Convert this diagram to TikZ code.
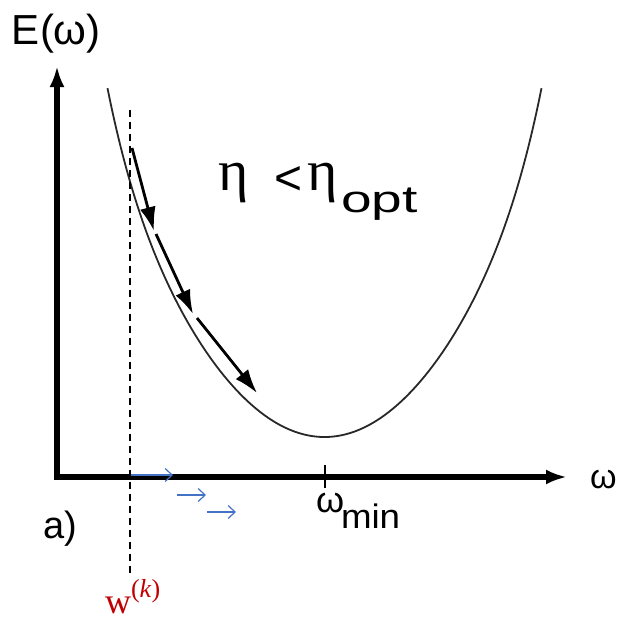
\documentclass[tikz,border=0pt]{standalone}
\usepackage{fontspec}
\setmainfont{Liberation Sans}
\newfontfamily\serifgr{Liberation Serif}
\usetikzlibrary{arrows.meta}
\definecolor{bluearr}{RGB}{68,114,196}
\definecolor{redlbl}{RGB}{192,0,0}
\definecolor{curvegray}{RGB}{40,40,40}
\tikzset{
  axis/.style={line width=5.5pt, -{Latex[length=21pt,width=15pt]}},
  steparrow/.style={line width=2.8pt, -{Latex[length=24pt,width=16pt]}},
  bluestep/.style={bluearr, line width=1.2pt, -{Straight Barb[length=7pt,width=13pt]}},
  lbl/.style={inner sep=0pt, outer sep=0pt},
}
\begin{document}
\begin{tikzpicture}[x=1pt,y=-1pt]
\useasboundingbox (0,0) rectangle (620,622);
% axes
\coordinate (O) at (57,477);
\coordinate (Ox) at (54,477);
\coordinate (Ytop) at (57,66);
\coordinate (Xend) at (567,477);
\draw[axis] (O) -- (Ytop);
\draw[axis] (Ox) -- (Xend);
% curve
\draw[curvegray, line width=1.8pt] plot[domain=-217:217, samples=140, smooth]
  ({324.5+\x}, {437-60.5*(\x/100)^2-0.13*(\x/100)^8});
% dashed vertical line
\coordinate (dtop) at (130,110);
\coordinate (dbot) at (130,574);
\draw[line width=1.5pt, dash pattern=on 7pt off 5pt] (dtop) -- (dbot);
% tick
\coordinate (t1) at (325,465);
\coordinate (t2) at (325,488);
\draw[line width=1.5pt] (t1) -- (t2);
% step arrows
\coordinate (a0) at (132,148);
\coordinate (a1) at (154,231);
\coordinate (a2) at (156,234);
\coordinate (a3) at (193,314);
\coordinate (a4) at (197,318);
\coordinate (a5) at (257,393);
\draw[steparrow] (a0) -- (a1);
\draw[steparrow] (a2) -- (a3);
\draw[steparrow] (a4) -- (a5);
% blue arrows
\coordinate (b0) at (131,475);
\coordinate (b1) at (173,475);
\coordinate (b2) at (177,495);
\coordinate (b3) at (206,495);
\coordinate (b4) at (207,512);
\coordinate (b5) at (236,512);
\draw[bluestep] (b0) -- (b1);
\draw[bluestep] (b2) -- (b3);
\draw[bluestep] (b4) -- (b5);
% labels
\node[lbl, anchor=base west, font=\fontsize{42}{42}\selectfont] (Elbl) at (12,44) {E(ω)};
\node[lbl, anchor=base west, font=\fontsize{38}{38}\selectfont] (alpha) at (43,538) {a)};
\node[lbl, anchor=base west, font=\fontsize{34}{34}\selectfont] (omg) at (590,488) {ω};
\node[lbl, anchor=base west, font=\fontsize{36}{36}\selectfont] (omin) at (316,512) {ω};
\node[lbl, anchor=base west, font=\fontsize{34}{34}\selectfont, xscale=1.08] (minl) at (341,528) {min};
\node[lbl, anchor=base west, font=\serifgr\fontsize{58}{58}\selectfont] (eta1) at (218,190) {η};
\node[lbl, anchor=base west, font=\fontsize{48}{48}\selectfont] (lt) at (274,194) {<};
\node[lbl, anchor=base west, font=\serifgr\fontsize{58}{58}\selectfont] (eta2) at (307,190) {η};
\node[lbl, anchor=base west, font=\fontsize{38}{38}\selectfont, xscale=1.45] (opt) at (341,212) {opt};
\node[lbl, anchor=base west, text=redlbl, font=\serifgr\fontsize{36}{36}\selectfont] (wk) at (105,613) {w};
\node[lbl, anchor=base west, text=redlbl, font=\serifgr\fontsize{26}{26}\selectfont] (wsup) at (131,597) {(\textit{k})};
\end{tikzpicture}
\end{document}
